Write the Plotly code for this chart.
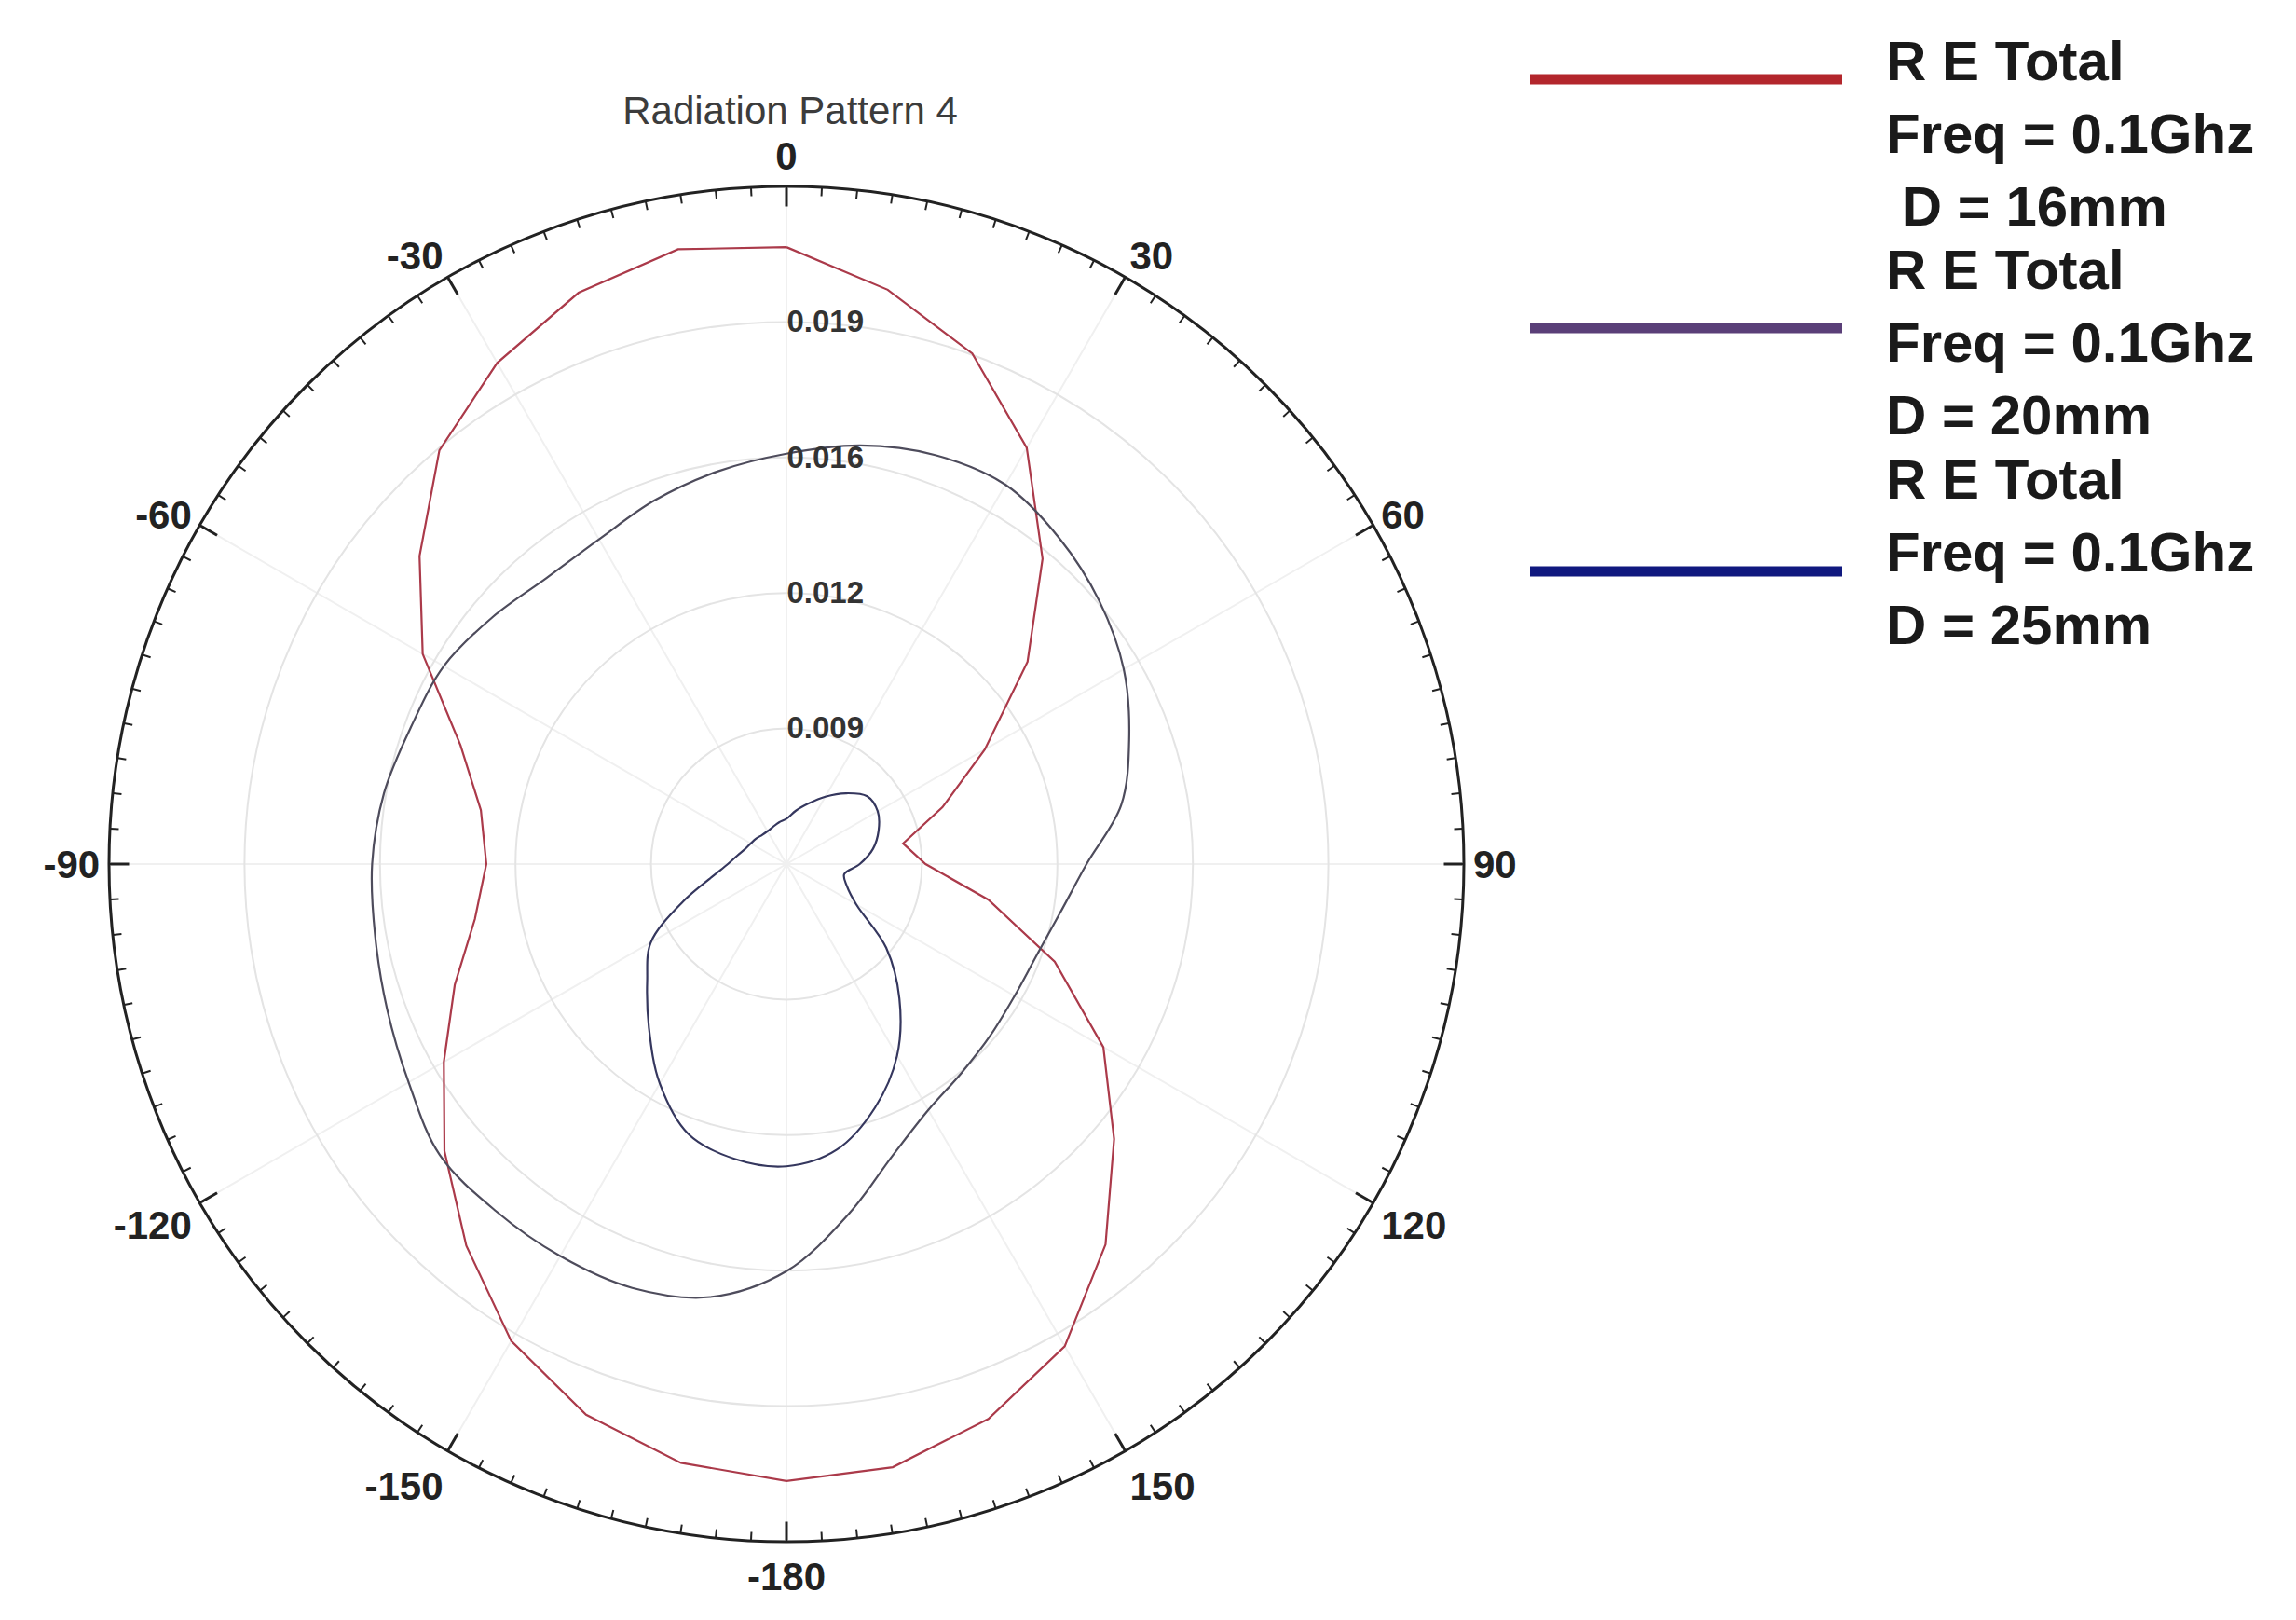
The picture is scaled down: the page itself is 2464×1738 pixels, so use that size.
import plotly.graph_objects as go

# angle of each sample, degrees (0 = top, clockwise positive)
angles = list(range(0, 360, 10))

# rE Total values, one per 10 degrees
re_total_16mm = [0.02084, 0.02001, 0.01903, 0.01749, 0.01547, 0.01341, 0.01130, 0.00975, 0.00858,
                 0.00909, 0.01071, 0.01269, 0.01467, 0.01619, 0.01788, 0.01936, 0.02019, 0.02073,
                 0.02084, 0.02062, 0.02008, 0.01921, 0.01792, 0.01665, 0.01540, 0.01435, 0.01345,
                 0.01305, 0.01330, 0.01420, 0.01600, 0.01745, 0.01895, 0.01990, 0.02062, 0.02102]
re_total_20mm = [0.01576, 0.01612, 0.01637, 0.01644, 0.01612, 0.01572, 0.01525, 0.01464, 0.01403,
                 0.01305, 0.01251, 0.01222, 0.01215, 0.01222, 0.01237, 0.01265, 0.01330, 0.01442,
                 0.01568, 0.01648, 0.01676, 0.01680, 0.01680, 0.01680, 0.01640, 0.01612, 0.01594,
                 0.01586, 0.01572, 0.01550, 0.01540, 0.01511, 0.01485, 0.01489, 0.01518, 0.01547]
re_total_25mm = [0.00678, 0.00700, 0.00725, 0.00758, 0.00794, 0.00826, 0.00826, 0.00808, 0.00783,
                 0.00747, 0.00711, 0.00725, 0.00765, 0.00887, 0.00999, 0.01111, 0.01204, 0.01280,
                 0.01310, 0.01303, 0.01273, 0.01190, 0.01093, 0.01014, 0.00952, 0.00838, 0.00754,
                 0.00711, 0.00689, 0.00675, 0.00668, 0.00664, 0.00660, 0.00660, 0.00664, 0.00671]

series = [re_total_16mm, re_total_20mm, re_total_25mm]
series_labels = ["R E Total<br>Freq = 0.1Ghz<br> D = 16mm",
                 "R E Total<br>Freq = 0.1Ghz<br>D = 20mm",
                 "R E Total<br>Freq = 0.1Ghz<br>D = 25mm"]
line_colors = ["#ab3a4a", "#4e4c5c", "#35375e"]
legend_colors = ["#b3262c", "#5a3f78", "#10197f"]
line_shapes = ["linear", "spline", "spline"]

radial_range = [0.005667, 0.022333]
radial_tickvals = [0.009, 0.012333, 0.015667, 0.019]
radial_ticktext = ["0.009", "0.012", "0.016", "0.019"]
angle_tickvals = list(range(0, 360, 30))
angle_ticktext = ["0", "30", "60", "90", "120", "150", "-180", "-150", "-120", "-90", "-60", "-30"]
minor_tickvals = list(range(0, 360, 3))

W, H = 2464, 1738
OFF = 8  # page body margin pushes the plot 8px right/down
dom_x = [(117 - OFF) / W, (1571 - OFF) / W]
dom_y = [1 - (1654 - OFF) / H, 1 - (200 - OFF) / H]

fig = go.Figure()

for vals, color, shape in zip(series, line_colors, line_shapes):
    fig.add_trace(go.Scatterpolar(
        r=vals + vals[:1],
        theta=angles + angles[:1],
        mode="lines",
        line=dict(color=color, width=2.2, shape=shape),
        showlegend=False,
        subplot="polar",
    ))

# second polar on top, only carries the small 3-degree ticks
fig.add_trace(go.Scatterpolar(r=[None], theta=[None], mode="lines",
                              showlegend=False, hoverinfo="skip", subplot="polar2"))

fig.update_layout(
    width=W, height=H,
    paper_bgcolor="white",
    margin=dict(l=0, r=0, t=0, b=0),
    font=dict(family="Arial, Liberation Sans, sans-serif", color="#222"),
    title=dict(text="Radiation Pattern 4", x=(848 - OFF) / W, y=1 - 110 / H,
               xanchor="center", yanchor="middle",
               font=dict(size=42, color="#3c3c3c")),
    polar=dict(
        domain=dict(x=dom_x, y=dom_y),
        bgcolor="white",
        angularaxis=dict(
            rotation=90, direction="clockwise",
            tickmode="array", tickvals=angle_tickvals, ticktext=angle_ticktext,
            ticks="inside", ticklen=20, tickwidth=2.5, tickcolor="#222",
            showline=True, linecolor="#222", linewidth=3,
            showgrid=True, gridcolor="#f0f0f0", gridwidth=1.5,
            tickfont=dict(size=42, color="#222", weight="bold"),
        ),
        radialaxis=dict(
            range=radial_range, angle=90, tickangle=90,
            tickmode="array", tickvals=radial_tickvals, ticktext=radial_ticktext,
            showline=False, ticks="",
            showgrid=True, gridcolor="#e4e4e4", gridwidth=1.5,
            tickfont=dict(size=33, color="#333", weight="bold"),
        ),
    ),
    polar2=dict(
        domain=dict(x=dom_x, y=dom_y),
        bgcolor="rgba(0,0,0,0)",
        angularaxis=dict(
            rotation=90, direction="clockwise",
            tickmode="array", tickvals=minor_tickvals,
            ticks="inside", ticklen=9, tickwidth=2, tickcolor="#222",
            showticklabels=False, showline=False, showgrid=False,
        ),
        radialaxis=dict(range=radial_range, visible=False),
    ),
)

# legend drawn by hand: long thick samples and three-line labels
legend_line_y = [77, 344, 605]
legend_text_y = [136, 359, 585]
for label, color, ly, ty in zip(series_labels, legend_colors, legend_line_y, legend_text_y):
    fig.add_shape(type="line", xref="paper", yref="paper",
                  x0=(1642 - OFF) / W, x1=(1977 - OFF) / W, y0=1 - ly / H, y1=1 - ly / H,
                  line=dict(color=color, width=11))
    fig.add_annotation(text=label, xref="paper", yref="paper",
                       x=2014 / W, y=1 - ty / H, xanchor="left", yanchor="middle",
                       align="left", showarrow=False,
                       font=dict(size=60, color="#1a1a1a", weight="bold"))

fig.write_html("out.html")
